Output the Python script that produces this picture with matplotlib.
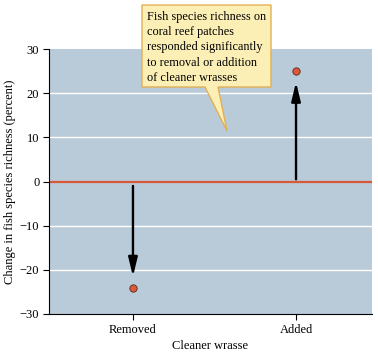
import matplotlib
matplotlib.use("Agg")
import matplotlib.pyplot as plt
from matplotlib.patches import Polygon

categories = ["Removed", "Added"]
values = [-24.2, 25.0]
arrow_start = [-1.0, 0.5]
arrow_end = [-21.5, 22.5]
yticks = [-30, -20, -10, 0, 10, 20, 30]
callout = "Fish species richness on\ncoral reef patches\nresponded significantly\nto removal or addition\nof cleaner wrasses"

plt.rcParams['font.family'] = ['Liberation Serif', 'DejaVu Serif']
W, H = 378, 354
fig = plt.figure(figsize=(W/100, H/100), dpi=100)
ax = fig.add_axes([49/W, 1-314/H, (372-49)/W, (314-49)/H])
ax.set_facecolor('#B9CAD9')
x = list(range(len(categories)))
ax.set_xlim(-0.515, 1.466)
ax.set_ylim(-30, 30)
ax.set_yticks(yticks)
ax.set_yticklabels([str(t).replace('-', '\u2212') for t in yticks])
for t in yticks:
    if t not in (-30, 30, 0):
        ax.axhline(t, color='white', lw=1.0, zorder=1)
ax.axhline(0, color='#D65A3A', lw=1.6, zorder=2)
for xi, s, e in zip(x, arrow_start, arrow_end):
    ax.annotate('', xy=(xi, e), xytext=(xi, s),
                arrowprops=dict(arrowstyle='-|>,head_length=0.7,head_width=0.17', color='black', lw=1.7,
                                mutation_scale=16, shrinkA=0, shrinkB=0), zorder=3)
ax.scatter(x, values, s=28, color='#D9593A', edgecolor='#5a2a1a', linewidth=0.6, zorder=4)
ax.set_xticks(x)
ax.set_xticklabels(categories)
ax.tick_params(axis='both', labelsize=9, direction='out', length=4, width=0.8, pad=3)
for sp in ['top', 'right']:
    ax.spines[sp].set_visible(False)
ax.set_xlabel('Cleaner wrasse', fontsize=9, labelpad=3)
ax.set_ylabel('Change in fish species richness (percent)', fontsize=9, labelpad=3)

pts = [(142, 5), (271, 5), (271, 87), (218, 87), (227, 131), (205, 87), (142, 87)]
poly = Polygon([(px/W, 1-py/H) for px, py in pts], closed=True, transform=fig.transFigure,
               facecolor='#FCEFB6', edgecolor='#E2B055', lw=1.0, zorder=10)
fig.patches.append(poly)
fig.text(147/W, 1-11/H, callout, ha='left', va='top', fontsize=8.8, linespacing=1.36, zorder=11)
fig.savefig('out.png', dpi=100)
